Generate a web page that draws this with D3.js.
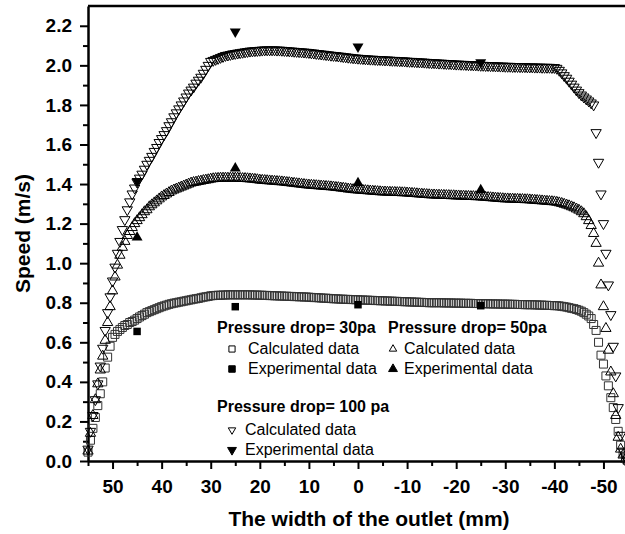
<!DOCTYPE html>
<html>
<head>
<meta charset="utf-8">
<script src="https://cdn.jsdelivr.net/npm/d3@7"></script>
<style>
  html, body { margin: 0; padding: 0; background: #fff; }
  svg { display: block; font-family: "Liberation Sans", Arial, sans-serif; }
</style>
</head>
<body>
<div id="chart"></div>
<script>
// positions across the outlet (mm), shared by the three calculated series
const widthMm = [
  55, 54.5, 54, 53.5, 53, 52.5, 52, 51.5, 51, 50.5,
  50, 49.5, 49, 48.5, 48, 47.5, 47, 46.5, 46, 45.5,
  45, 44.5, 44, 43.5, 43, 42.5, 42, 41.5, 41, 40.5,
  40, 39.5, 39, 38.5, 38, 37.5, 37, 36.5, 36, 35.5,
  35, 34.5, 34, 33.5, 33, 32.5, 32, 31.5, 31, 30.5,
  30, 29.5, 29, 28.5, 28, 27.5, 27, 26.5, 26, 25.5,
  25, 24.5, 24, 23.5, 23, 22.5, 22, 21.5, 21, 20.5,
  20, 19.5, 19, 18.5, 18, 17.5, 17, 16.5, 16, 15.5,
  15, 14.5, 14, 13.5, 13, 12.5, 12, 11.5, 11, 10.5,
  10, 9.5, 9, 8.5, 8, 7.5, 7, 6.5, 6, 5.5,
  5, 4.5, 4, 3.5, 3, 2.5, 2, 1.5, 1, 0.5,
  0, -0.5, -1, -1.5, -2, -2.5, -3, -3.5, -4, -4.5,
  -5, -5.5, -6, -6.5, -7, -7.5, -8, -8.5, -9, -9.5,
  -10, -10.5, -11, -11.5, -12, -12.5, -13, -13.5, -14, -14.5,
  -15, -15.5, -16, -16.5, -17, -17.5, -18, -18.5, -19, -19.5,
  -20, -20.5, -21, -21.5, -22, -22.5, -23, -23.5, -24, -24.5,
  -25, -25.5, -26, -26.5, -27, -27.5, -28, -28.5, -29, -29.5,
  -30, -30.5, -31, -31.5, -32, -32.5, -33, -33.5, -34, -34.5,
  -35, -35.5, -36, -36.5, -37, -37.5, -38, -38.5, -39, -39.5,
  -40, -40.5, -41, -41.5, -42, -42.5, -43, -43.5, -44, -44.5,
  -45, -45.5, -46, -46.5, -47, -47.5, -48, -48.5, -49, -49.5,
  -50, -50.5, -51, -51.5, -52, -52.5, -53, -53.5, -54, -54.5,
  -55
];

// calculated speed, pressure drop 30 pa (m/s)
const calc30 = [
  0.045, 0.105, 0.165, 0.22, 0.28, 0.34, 0.40, 0.47, 0.525, 0.58,
  0.625, 0.64, 0.655, 0.665, 0.675, 0.685, 0.69, 0.70, 0.705, 0.712,
  0.72, 0.728, 0.735, 0.742, 0.75, 0.755, 0.76, 0.765, 0.77, 0.775,
  0.78, 0.784, 0.788, 0.792, 0.795, 0.798, 0.80, 0.803, 0.805, 0.808,
  0.81, 0.813, 0.815, 0.818, 0.82, 0.822, 0.825, 0.828, 0.83, 0.832,
  0.835, 0.836, 0.837, 0.838, 0.838, 0.839, 0.839, 0.84, 0.84, 0.84,
  0.84, 0.84, 0.84, 0.84, 0.84, 0.84, 0.84, 0.839, 0.839, 0.839,
  0.838, 0.838, 0.837, 0.837, 0.836, 0.836, 0.835, 0.835, 0.834, 0.834,
  0.833, 0.833, 0.832, 0.832, 0.831, 0.831, 0.83, 0.83, 0.829, 0.829,
  0.828, 0.827, 0.826, 0.826, 0.825, 0.824, 0.823, 0.823, 0.822, 0.821,
  0.82, 0.82, 0.819, 0.818, 0.818, 0.817, 0.817, 0.816, 0.816, 0.815,
  0.815, 0.814, 0.814, 0.813, 0.813, 0.812, 0.812, 0.811, 0.811, 0.81,
  0.81, 0.809, 0.809, 0.808, 0.808, 0.807, 0.807, 0.806, 0.806, 0.805,
  0.805, 0.804, 0.804, 0.803, 0.803, 0.802, 0.802, 0.801, 0.801, 0.80,
  0.80, 0.80, 0.80, 0.80, 0.80, 0.799, 0.799, 0.799, 0.799, 0.798,
  0.798, 0.798, 0.798, 0.797, 0.797, 0.797, 0.797, 0.796, 0.796, 0.796,
  0.795, 0.795, 0.795, 0.795, 0.794, 0.794, 0.794, 0.794, 0.793, 0.793,
  0.793, 0.793, 0.792, 0.792, 0.792, 0.791, 0.791, 0.791, 0.79, 0.79,
  0.79, 0.79, 0.789, 0.789, 0.788, 0.788, 0.787, 0.787, 0.786, 0.786,
  0.785, 0.785, 0.784, 0.782, 0.78, 0.778, 0.775, 0.772, 0.77, 0.766,
  0.762, 0.757, 0.75, 0.742, 0.733, 0.72, 0.69, 0.66, 0.60, 0.535,
  0.49, 0.43, 0.38, 0.32, 0.27, 0.21, 0.15, 0.08, 0.04, 0.02,
  0.0
];

// calculated speed, pressure drop 50 pa (m/s)
const calc50 = [
  0.05, 0.14, 0.23, 0.31, 0.39, 0.46, 0.53, 0.61, 0.70, 0.78,
  0.86, 0.93, 0.99, 1.04, 1.08, 1.11, 1.14, 1.16, 1.18, 1.20,
  1.215, 1.23, 1.245, 1.26, 1.27, 1.285, 1.295, 1.305, 1.315, 1.325,
  1.335, 1.342, 1.35, 1.357, 1.365, 1.37, 1.375, 1.38, 1.385, 1.39,
  1.395, 1.40, 1.405, 1.408, 1.41, 1.413, 1.415, 1.418, 1.42, 1.422,
  1.425, 1.427, 1.428, 1.429, 1.43, 1.43, 1.43, 1.43, 1.43, 1.43,
  1.43, 1.43, 1.429, 1.428, 1.428, 1.427, 1.426, 1.425, 1.424, 1.422,
  1.42, 1.419, 1.418, 1.417, 1.416, 1.415, 1.414, 1.413, 1.412, 1.411,
  1.41, 1.408, 1.407, 1.405, 1.404, 1.402, 1.401, 1.399, 1.398, 1.396,
  1.395, 1.394, 1.393, 1.392, 1.391, 1.39, 1.389, 1.388, 1.387, 1.386,
  1.385, 1.383, 1.382, 1.38, 1.379, 1.377, 1.375, 1.374, 1.372, 1.371,
  1.37, 1.369, 1.368, 1.367, 1.366, 1.365, 1.364, 1.363, 1.362, 1.361,
  1.36, 1.36, 1.359, 1.359, 1.358, 1.358, 1.357, 1.357, 1.356, 1.356,
  1.355, 1.354, 1.353, 1.352, 1.351, 1.35, 1.349, 1.348, 1.347, 1.346,
  1.345, 1.345, 1.344, 1.344, 1.343, 1.343, 1.342, 1.342, 1.341, 1.341,
  1.34, 1.34, 1.339, 1.339, 1.338, 1.338, 1.337, 1.337, 1.336, 1.336,
  1.335, 1.334, 1.333, 1.332, 1.331, 1.33, 1.329, 1.328, 1.327, 1.326,
  1.325, 1.325, 1.324, 1.324, 1.323, 1.323, 1.322, 1.322, 1.321, 1.321,
  1.32, 1.319, 1.318, 1.317, 1.316, 1.315, 1.314, 1.313, 1.312, 1.311,
  1.31, 1.308, 1.305, 1.302, 1.298, 1.294, 1.29, 1.285, 1.28, 1.274,
  1.268, 1.26, 1.25, 1.235, 1.215, 1.19, 1.15, 1.10, 1.00, 0.89,
  0.78, 0.67, 0.56, 0.45, 0.34, 0.23, 0.12, 0.06, 0.03, 0.01,
  0.0
];

// calculated speed, pressure drop 100 pa (m/s)
const calc100 = [
  0.06, 0.15, 0.23, 0.31, 0.39, 0.48, 0.57, 0.66, 0.75, 0.83,
  0.91, 0.98, 1.05, 1.11, 1.17, 1.22, 1.27, 1.31, 1.35, 1.38,
  1.41, 1.43, 1.45, 1.475, 1.50, 1.52, 1.54, 1.565, 1.585, 1.61,
  1.63, 1.65, 1.67, 1.695, 1.715, 1.74, 1.76, 1.78, 1.80, 1.82,
  1.84, 1.86, 1.875, 1.89, 1.91, 1.925, 1.94, 1.96, 1.98, 2.00,
  2.02, 2.025, 2.03, 2.035, 2.04, 2.045, 2.05, 2.052, 2.055, 2.058,
  2.06, 2.062, 2.064, 2.066, 2.068, 2.07, 2.072, 2.073, 2.074, 2.075,
  2.076, 2.077, 2.078, 2.078, 2.078, 2.078, 2.078, 2.077, 2.077, 2.076,
  2.075, 2.074, 2.073, 2.072, 2.071, 2.07, 2.069, 2.068, 2.067, 2.066,
  2.065, 2.063, 2.062, 2.06, 2.059, 2.057, 2.056, 2.054, 2.053, 2.051,
  2.05, 2.049, 2.047, 2.046, 2.044, 2.043, 2.041, 2.04, 2.038, 2.037,
  2.036, 2.035, 2.034, 2.033, 2.032, 2.031, 2.031, 2.03, 2.029, 2.029,
  2.028, 2.027, 2.027, 2.026, 2.025, 2.025, 2.024, 2.023, 2.023, 2.022,
  2.021, 2.02, 2.02, 2.019, 2.018, 2.017, 2.017, 2.016, 2.015, 2.014,
  2.013, 2.013, 2.012, 2.011, 2.011, 2.01, 2.009, 2.009, 2.008, 2.007,
  2.006, 2.006, 2.005, 2.005, 2.004, 2.003, 2.003, 2.002, 2.002, 2.001,
  2.00, 2.00, 1.999, 1.999, 1.998, 1.998, 1.997, 1.997, 1.996, 1.996,
  1.995, 1.995, 1.995, 1.994, 1.994, 1.994, 1.993, 1.993, 1.993, 1.992,
  1.992, 1.992, 1.991, 1.991, 1.991, 1.99, 1.99, 1.99, 1.99, 1.989,
  1.989, 1.985, 1.975, 1.962, 1.948, 1.935, 1.92, 1.905, 1.89, 1.875,
  1.862, 1.85, 1.84, 1.83, 1.82, 1.81, 1.80, 1.66, 1.51, 1.35,
  1.20, 1.05, 0.89, 0.74, 0.58, 0.43, 0.27, 0.13, 0.05, 0.02,
  0.0
];

// measured points
const expWidth = [45, 25, 0, -25];
const exp30  = [0.655, 0.78, 0.79, 0.785];
const exp50  = [1.13, 1.48, 1.405, 1.37];
const exp100 = [1.415, 2.17, 2.095, 2.015];

const xMajor = [50, 40, 30, 20, 10, 0, -10, -20, -30, -40, -50];
const xMinor = [55, 45, 35, 25, 15, 5, -5, -15, -25, -35, -45, -55];
const yMajor = [0, 0.2, 0.4, 0.6, 0.8, 1.0, 1.2, 1.4, 1.6, 1.8, 2.0, 2.2];
const yMinor = [0.1, 0.3, 0.5, 0.7, 0.9, 1.1, 1.3, 1.5, 1.7, 1.9, 2.1];

// chart box
const W = 625, H = 534;
const margin = { top: 6, left: 88, bottom: 73 },
      plotRight = 628,
      plotBottom = H - margin.bottom;

const svg = d3.select("#chart").append("svg")
  .attr("width", W)
  .attr("height", H);

const x = d3.scaleLinear().domain([55, -55]).range([margin.left, plotRight]);
const y = d3.scaleLinear().domain([0, 2.3]).range([plotBottom, margin.top]);

const tickFont = "bold 19px 'Liberation Sans', Arial, sans-serif";
const titleFont = "bold 21px 'Liberation Sans', Arial, sans-serif";

// minor ticks
svg.append("g")
  .attr("transform", `translate(0,${plotBottom})`)
  .call(d3.axisBottom(x).tickValues(xMinor).tickSize(5).tickFormat(""))
  .call(g => g.select(".domain").remove())
  .call(g => g.selectAll("line").attr("stroke-width", 2));

svg.append("g")
  .attr("transform", `translate(${margin.left},0)`)
  .call(d3.axisLeft(y).tickValues(yMinor).tickSize(5).tickFormat(""))
  .call(g => g.select(".domain").remove())
  .call(g => g.selectAll("line").attr("stroke-width", 2));

// major ticks + labels (plain hyphen for negatives, as in the original)
svg.append("g")
  .attr("transform", `translate(0,${plotBottom})`)
  .call(d3.axisBottom(x).tickValues(xMajor).tickSize(8).tickSizeOuter(0).tickPadding(11).tickFormat(d => String(d)))
  .call(g => g.select(".domain").attr("stroke-width", 2.5))
  .call(g => g.selectAll("line").attr("stroke-width", 2))
  .call(g => g.selectAll("text").style("font", tickFont).attr("fill", "#000"));

svg.append("g")
  .attr("transform", `translate(${margin.left},0)`)
  .call(d3.axisLeft(y).tickValues(yMajor).tickSize(8).tickSizeOuter(0).tickPadding(8).tickFormat(d => d.toFixed(1)))
  .call(g => g.select(".domain").attr("stroke-width", 2.5))
  .call(g => g.selectAll("line").attr("stroke-width", 2))
  .call(g => g.selectAll("text").style("font", tickFont).attr("fill", "#000"));

// top frame line
svg.append("line")
  .attr("x1", margin.left).attr("x2", plotRight)
  .attr("y1", margin.top).attr("y2", margin.top)
  .attr("stroke", "#000").attr("stroke-width", 2.5);

// axis titles
svg.append("text")
  .attr("x", 369).attr("y", 526)
  .attr("text-anchor", "middle")
  .style("font", titleFont)
  .text("The width of the outlet (mm)");

svg.append("text")
  .attr("transform", `translate(30,${(margin.top + plotBottom) / 2}) rotate(-90)`)
  .attr("text-anchor", "middle")
  .style("font", titleFont)
  .text("Speed (m/s)");

// symbols
const square = size => d3.symbol().type(d3.symbolSquare).size(size)();
const tri = size => d3.symbol().type(d3.symbolTriangle).size(size)();

function drawOpen(values, path, rotate, stroke) {
  svg.append("g").selectAll("path")
    .data(values.map((v, i) => [widthMm[i], v]))
    .join("path")
      .attr("d", path)
      .attr("transform", d => `translate(${x(d[0])},${y(d[1])})${rotate ? " rotate(180)" : ""}`)
      .attr("fill", "none")
      .attr("stroke", stroke)
      .attr("stroke-width", 1);
}

function drawFilled(values, path, rotate) {
  svg.append("g").selectAll("path")
    .data(values.map((v, i) => [expWidth[i], v]))
    .join("path")
      .attr("d", path)
      .attr("transform", d => `translate(${x(d[0])},${y(d[1])})${rotate ? " rotate(180)" : ""}`)
      .attr("fill", "#000");
}

drawOpen(calc30, square(64), false, "#333");
drawOpen(calc50, tri(46), false, "#000");
drawOpen(calc100, tri(46), true, "#000");

drawFilled(exp30, square(56), false);
drawFilled(exp50, tri(52), false);
drawFilled(exp100, tri(52), true);

// legend
const legend = svg.append("g");
const boldFont = "bold 16px 'Liberation Sans', Arial, sans-serif";
const regFont = "16px 'Liberation Sans', Arial, sans-serif";

const legendHeads = [
  { text: "Pressure drop= 30pa", x: 217, y: 333 },
  { text: "Pressure drop= 50pa", x: 388, y: 333 },
  { text: "Pressure drop= 100 pa", x: 217, y: 412 }
];
legend.selectAll("text.head")
  .data(legendHeads)
  .join("text")
    .attr("class", "head")
    .attr("x", d => d.x).attr("y", d => d.y)
    .style("font", boldFont)
    .text(d => d.text);

const legendItems = [
  { mark: square(38), rot: false, fill: "none", mx: 232, tx: 248, y: 354, text: "Calculated data" },
  { mark: square(42), rot: false, fill: "#000", mx: 232, tx: 248, y: 374, text: "Experimental data" },
  { mark: tri(24), rot: false, fill: "none", mx: 393, tx: 404, y: 354, text: "Calculated data" },
  { mark: tri(34), rot: false, fill: "#000", mx: 393, tx: 404, y: 374, text: "Experimental data" },
  { mark: tri(24), rot: true, fill: "none", mx: 232, tx: 245, y: 435, text: "Calculated data" },
  { mark: tri(34), rot: true, fill: "#000", mx: 232, tx: 245, y: 455, text: "Experimental data" }
];

legendItems.forEach(d => {
  legend.append("path")
    .attr("d", d.mark)
    .attr("transform", `translate(${d.mx},${d.y - 5})${d.rot ? " rotate(180)" : ""}`)
    .attr("fill", d.fill)
    .attr("stroke", "#000")
    .attr("stroke-width", 1);
  legend.append("text")
    .attr("x", d.tx).attr("y", d.y)
    .style("font", regFont)
    .text(d.text);
});
</script>
</body>
</html>
